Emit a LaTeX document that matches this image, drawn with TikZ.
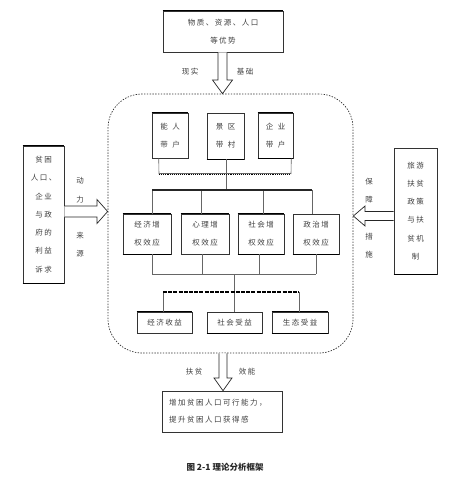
\documentclass[tikz,border=0pt]{standalone}
\usepackage{fontspec}
\setmainfont{Noto Sans CJK SC}
\newfontfamily\cjk[LetterSpace=20]{Noto Sans CJK SC}
\newfontfamily\cjkw[LetterSpace=60]{Noto Sans CJK SC}
\usetikzlibrary{calc}
\begin{document}
\begin{tikzpicture}[x=1pt,y=-1pt,
  box/.style={draw=black!80, line width=0.6pt, fill=white, inner sep=0pt, align=center,
     font=\cjk\fontsize{7.5}{18}\selectfont, text=black!75},
  conn/.style={draw=black!60, line width=0.6pt},
  bus/.style={draw=black!85, line width=1.1pt},
  lab/.style={inner sep=0pt, align=center, font=\cjk\fontsize{7.5}{18.2}\selectfont, text=black!75},
  harrow/.style={draw=black!85, line width=0.7pt, fill=white, line join=miter},
  frame/.style={draw=black!80, dash pattern=on 1.4pt off 1.4pt, rounded corners=34pt, line width=0.7pt, inner sep=0pt},
  edge/.style={line width=1.5pt, draw=black}
]
\useasboundingbox (0,0) rectangle (463,487);

% frame
\node[frame, minimum width=245pt, minimum height=259pt] (frame) at (230.5,223.5) {};

% top box
\node[box, minimum width=120pt, minimum height=41pt] (top) at (223,31.5) {物质、资源、人口\\等优势};
\draw[edge] (top.north west) -- (top.north east);

% row 1
\node[box, font=\cjkw\fontsize{7.5}{18}\selectfont, minimum width=36pt, minimum height=45pt] (n1) at (170,135.5) {能人\\带户};
\node[box, font=\cjkw\fontsize{7.5}{18}\selectfont, minimum width=37pt, minimum height=46pt] (n2) at (225.5,136) {景区\\带村};
\node[box, font=\cjkw\fontsize{7.5}{18}\selectfont, minimum width=35pt, minimum height=45pt] (n3) at (275.5,135.5) {企业\\带户};
\draw[edge] (n1.north west) -- (n1.north east);
\draw[edge] (n2.south west) -- (n2.south east);
\draw[edge] (n3.north west) -- (n3.north east);
\draw[edge] (n3.south west) -- (n3.south east);

% row 2
\node[box, minimum width=48pt, minimum height=40pt] (e1) at (147,234) {经济增\\权效应};
\node[box, minimum width=48pt, minimum height=40pt] (e2) at (205,234) {心理增\\权效应};
\node[box, minimum width=46pt, minimum height=40pt] (e3) at (261,234) {社会增\\权效应};
\node[box, minimum width=46pt, minimum height=40pt] (e4) at (316,234) {政治增\\权效应};
\draw[edge] (e1.north west) -- (e1.north east);
\draw[edge] (e1.south west) -- (e1.south east);
\draw[edge] (e2.north west) -- (e2.north east);
\draw[edge] (e3.north west) -- (e3.north east);
\draw[edge] (e3.south west) -- (e3.south east);
\draw[edge] (e4.south west) -- (e4.south east);

% row 3
\node[box, minimum width=55pt, minimum height=21pt] (r1) at (164.5,322.5) {经济收益};
\node[box, minimum width=55pt, minimum height=21pt] (r2) at (234.5,322.5) {社会受益};
\node[box, minimum width=56pt, minimum height=21pt] (r3) at (300,322.5) {生态受益};
\draw[edge] (r1.north west) -- (r1.north east);
\draw[edge] (r2.south west) -- (r2.south east);
\draw[edge] (r3.north west) -- (r3.north east);
\draw[edge] (r3.south west) -- (r3.south east);

% side boxes
\node[box, minimum width=41pt, minimum height=137pt, font=\cjk\fontsize{7.5}{18.3}\selectfont] (L) at (43.5,214.5) {贫困\\人口、\\企业\\与政\\府的\\利益\\诉求};
\draw[edge] (L.north west) -- (L.north east);
\draw[edge] (L.south west) -- (L.south east);
\node[box, minimum width=43pt, minimum height=126pt, font=\cjk\fontsize{7.5}{18.2}\selectfont] (R) at (415.5,211) {旅游\\扶贫\\政策\\与扶\\贫机\\制};
\draw[edge] (R.south west) -- (R.south east);

% bottom box
\node[box, minimum width=120pt, minimum height=41pt, align=left, text width=106pt,
      font=\cjk\fontsize{7.5}{17}\selectfont] (B) at (222,411.5) {增加贫困人口可行能力，\\提升贫困人口获得感};

% labels
\node[lab] (lx) at (190,72) {现实};
\node[lab] (lj) at (245,72) {基础};
\node[lab] (ld) at (80,217.5) {动\\力\\\\来\\源};
\node[lab] (lb) at (369,218) {保\\障\\\\措\\施};
\node[lab] (lf) at (194,372) {扶贫};
\node[lab] (lxn) at (247,372) {效能};
\node[inner sep=0pt, font=\fontsize{8.5}{10}\selectfont\bfseries, text=black!85] (cap) at (225,467) {图 2-1 理论分析框架};

% tree connectors
\coordinate (b1l) at (159,174);
\coordinate (b1r) at (291,174);
\coordinate (b1c) at (226,174);
\draw[conn] ($(n1.south west)+(7,0)$) -- (b1l);
\draw[conn] ($(n3.south east)+(-2,0)$) -- (b1r);
\coordinate (b2c) at (226,190);
\draw[conn] (n2.south -| b1c) -- (b2c);
\draw[line width=1.1pt, densely dotted] (b1l) -- (b1r);
\draw[conn, line width=0.4pt] ($(b1l)+(0,-1)$) -- ($(b1r)+(0,-1)$);

\coordinate (b2l) at (152,190);
\coordinate (b2r) at (312,190);
\draw[conn] (b2l) -- (b2l |- e1.north);
\draw[conn] (201,190) -- (201,0 |- e2.north);
\draw[conn] (263,190) -- (263,0 |- e3.north);
\draw[conn] (b2r) -- (b2r |- e4.north);
\draw[bus] (b2l) -- (b2r);

\coordinate (b3l) at (152,274);
\coordinate (b3r) at (316,274);
\draw[conn] (b3l |- e1.south) -- (b3l);
\draw[conn] (202,0 |- e2.south) -- (202,274);
\draw[conn] (259,0 |- e3.south) -- (259,274);
\draw[conn] (b3r |- e4.south) -- (b3r);
\draw[conn] (b3l) -- (b3r);
\draw[conn, line width=1pt] (224,274) -- (262,274);

\coordinate (b4l) at (163,292);
\coordinate (b4r) at (299,292);
\coordinate (b4c) at (234,292);
\draw[conn] (234,274) -- (b4c);
\draw[conn] (b4l) -- (b4l |- r1.north);
\draw[conn] (b4c) -- (b4c |- r2.north);
\draw[conn] (b4r) -- (b4r |- r3.north);
\draw[line width=1.2pt, dash pattern=on 4pt off 1.2pt] (b4l) -- (b4r);

% hollow arrows
\draw[harrow] (218,0 |- top.south) -- (218,80) -- (212.5,80) -- (222.5,0 |- frame.north) -- (232.5,80) -- (227,80) -- (227,0 |- top.south);
\draw[harrow] (L.east |- 0,206) -- (97,206) -- (97,199.5) -- (frame.west |- 0,211.5) -- (97,223.5) -- (97,217) -- (L.east |- 0,217);
\draw[harrow] (R.west |- 0,211.5) -- (365,211.5) -- (365,206) -- (frame.east |- 0,216) -- (365,226) -- (365,220.5) -- (R.west |- 0,220.5);
\draw[harrow] (219,0 |- frame.south) -- (219,378) -- (214,378) -- (223,0 |- B.north) -- (232,378) -- (227,378) -- (227,0 |- frame.south);
\end{tikzpicture}
\end{document}
